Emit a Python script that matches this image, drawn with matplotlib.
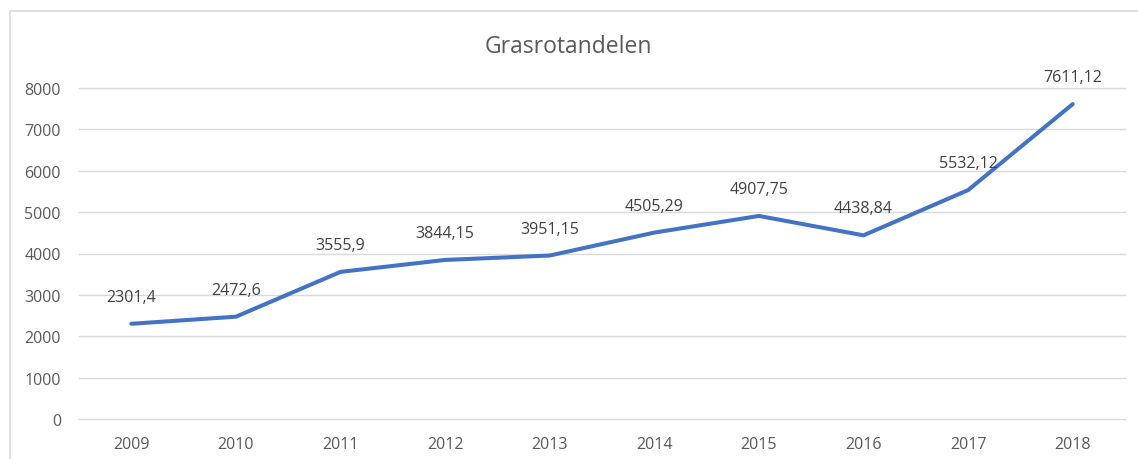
import matplotlib.pyplot as plt
from matplotlib.patches import Rectangle

plt.rcParams['font.family'] = ['Open Sans', 'DejaVu Sans']

years = ['2009', '2010', '2011', '2012', '2013', '2014', '2015', '2016', '2017', '2018']
values = [2301.4, 2472.6, 3555.9, 3844.15, 3951.15, 4505.29, 4907.75, 4438.84, 5532.12, 7611.12]
labels = ['2301,4', '2472,6', '3555,9', '3844,15', '3951,15', '4505,29', '4907,75', '4438,84', '5532,12', '7611,12']
yticks = [0, 1000, 2000, 3000, 4000, 5000, 6000, 7000, 8000]

fig = plt.figure(figsize=(11.38, 4.6), dpi=100)
# light chart border, like the spreadsheet chart frame
fig.patches.append(Rectangle((10 / 1138, -0.1), 1.2, 1.1 - 12 / 460,
                             transform=fig.transFigure, fill=False,
                             edgecolor='#d9d9d9', linewidth=1.2))

ax = fig.add_axes([79 / 1138, 1 - 420 / 460, (1125 - 79) / 1138, (420 - 89) / 460])
x = list(range(len(years)))
ax.plot(x, values, color='#4472C4', linewidth=2.9, solid_capstyle='round', zorder=3)

for xi, v, lab in zip(x, values, labels):
    ax.annotate(lab, (xi, v), xytext=(0, 27), textcoords='offset pixels',
                ha='center', va='center', fontsize=11.5, color='#404040', zorder=4)

ax.set_xlim(-0.5, len(years) - 0.5)
ax.set_ylim(0, 8000)
ax.set_yticks(yticks)
ax.set_yticklabels([str(t) for t in yticks])
ax.set_xticks(x)
ax.set_xticklabels(years)
ax.grid(axis='y', color='#d9d9d9', linewidth=1)
for gl in ax.get_ygridlines():
    gl.set_clip_on(False)
ax.set_axisbelow(True)
for s in ax.spines.values():
    s.set_visible(False)
ax.tick_params(axis='both', length=0, labelsize=11.5, labelcolor='#595959')
ax.tick_params(axis='y', pad=13)
ax.tick_params(axis='x', pad=12)

fig.text(568 / 1138, 1 - 47 / 460, 'Grasrotandelen', ha='center', va='center',
         fontsize=16.5, color='#595959')

fig.savefig('out.png', dpi=100)
